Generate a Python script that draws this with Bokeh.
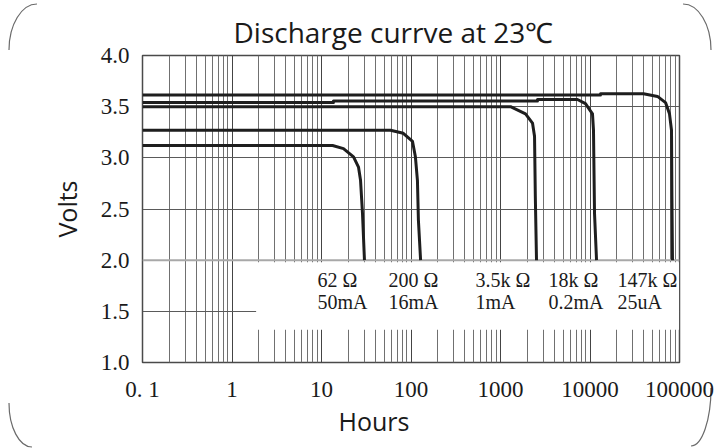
import urllib.parse
from bokeh.plotting import figure
from bokeh.models import FixedTicker, Span, Title
from bokeh.core.properties import value
from bokeh.embed import file_html
from bokeh.resources import INLINE

# ---------------- data ----------------
x_tick_values = [0.1, 1, 10, 100, 1000, 10000, 100000]
x_tick_labels = ["0. 1", "1", "10", "100", "1000", "10000", "100000"]
y_tick_values = [1.0, 1.5, 2.0, 2.5, 3.0, 3.5, 4.0]
y_tick_labels = ["1.0", "1.5", "2.0", "2.5", "3.0", "3.5", "4.0"]

# 62 ohm / 50 mA
hours_62 = [0.1, 13.3, 17.6, 22.8, 25.9, 27.3, 28.7, 30.2]
volts_62 = [3.12, 3.12, 3.09, 3.01, 2.91, 2.78, 2.46, 2.0]
# 200 ohm / 16 mA
hours_200 = [0.1, 59, 82, 104, 112, 118, 121, 128]
volts_200 = [3.27, 3.27, 3.24, 3.16, 3.01, 2.78, 2.39, 2.0]
# 3.5k ohm / 1 mA
hours_3k5 = [0.1, 1294, 1903, 2278, 2400, 2450, 2525]
volts_3k5 = [3.50, 3.50, 3.43, 3.34, 3.21, 2.62, 2.0]
# 18k ohm / 0.2 mA
hours_18k = [0.1, 13.6, 13.6, 2590, 2590, 7244, 8900, 10660, 10940, 11230, 11830]
volts_18k = [3.54, 3.54, 3.555, 3.555, 3.57, 3.57, 3.53, 3.43, 3.27, 2.46, 2.0]
# 147k ohm / 25 uA
hours_147k = [0.1, 13100, 13100, 39600, 56800, 69800, 77300, 81400, 82300, 83500]
volts_147k = [3.615, 3.615, 3.627, 3.627, 3.60, 3.54, 3.43, 3.27, 2.62, 2.0]

res_labels = ["62 Ω", "200 Ω", "3.5k Ω", "18k Ω", "147k Ω"]
cur_labels = ["50mA", "16mA", "1mA", "0.2mA", "25uA"]

# label positions (hours) and rows (volts)
label_hours = [9.0, 56, 526, 3436, 20300]
label_row_volts = [1.81, 1.59]

# ---------------- figure ----------------
W, H = 716, 448

# rounded frame corners, drawn as a page background behind a transparent border
corner_svg = (
    "<svg xmlns='http://www.w3.org/2000/svg' width='716' height='448'>"
    "<g fill='none' stroke='#6a6a6a' stroke-width='1.2'>"
    "<path d='M9 50 A28 46 0 0 1 37 4'/>"
    "<path d='M683 4 A28 46 0 0 1 711 50'/>"
    "<path d='M711 388 A20 58 0 0 1 691 446'/>"
    "<path d='M32 447 A23 44 0 0 1 9 403'/>"
    "</g></svg>"
)
bg = 'url("data:image/svg+xml,' + urllib.parse.quote(corner_svg, safe="") + '")'

p = figure(width=W, height=H, x_axis_type="log",
           x_range=(0.1, 100000), y_range=(1.0, 4.0),
           output_backend="svg", toolbar_location=None,
           min_border_left=142, min_border_right=37,
           min_border_top=55, min_border_bottom=86)
p.styles = {"background-image": bg, "background-repeat": "no-repeat"}
p.background_fill_color = "white"
p.border_fill_color = None
p.outline_line_color = "#4a4a4a"
p.outline_line_width = 1.5

minor = [m * d for d in x_tick_values[:-1] for m in range(2, 10)]
p.xaxis.ticker = FixedTicker(ticks=x_tick_values, minor_ticks=minor)
p.xaxis.major_label_overrides = dict(zip(x_tick_values, x_tick_labels))
p.yaxis.ticker = FixedTicker(ticks=y_tick_values)
p.yaxis.major_label_overrides = dict(zip(y_tick_values, y_tick_labels))

for ax in (p.xaxis[0], p.yaxis[0]):
    ax.axis_line_color = None
    ax.major_tick_line_color = None
    ax.minor_tick_line_color = None
    ax.major_tick_out = 0
    ax.minor_tick_out = 0
    ax.major_label_text_font = "Liberation Serif"
    ax.major_label_text_font_size = "23px"
    ax.major_label_text_color = "#1a1a1a"
    ax.major_label_standoff = 14
    ax.axis_label_text_font = "Open Sans"
    ax.axis_label_text_font_size = "25px"
    ax.axis_label_text_font_style = "normal"
    ax.axis_label_text_color = "#1a1a1a"

p.yaxis.axis_label = "Volts"
p.yaxis.axis_label_standoff = 14
p.yaxis.major_label_standoff = 13

# x axis title placed under the tick labels, left of centre as in the original
p.add_layout(Title(text="Hours", align="left", offset=196, standoff=-5,
                   text_font="Open Sans", text_font_size="25px",
                   text_font_style="normal", text_color="#1a1a1a"), "below")

p.xgrid.grid_line_color = "#444444"
p.xgrid.minor_grid_line_color = "#707070"
p.xgrid.minor_grid_line_width = 1
p.ygrid.grid_line_color = "#5a5a5a"

p.title.text = "Discharge currve  at 23℃"
p.title.text_font = "Open Sans"
p.title.text_font_size = "28px"
p.title.text_font_style = "normal"
p.title.text_color = "#1a1a1a"
p.title.align = "left"
p.title.offset = 91
p.title.standoff = 9

# lighter 2.0 V line
p.add_layout(Span(location=2.0, dimension="width", line_color="#a8a8a8",
                  line_width=2, level="underlay"))

# white label panel covering the grid
p.quad(left=1.86, right=99000, bottom=1.32, top=1.98,
       fill_color="white", line_color=None)

curves = [(hours_62, volts_62), (hours_200, volts_200), (hours_3k5, volts_3k5),
          (hours_18k, volts_18k), (hours_147k, volts_147k)]
for hx, vy in curves:
    p.line(hx, vy, line_color="#1e1e1e", line_width=3, line_join="round")

p.text(x=label_hours, y=[label_row_volts[0]] * 5, text=res_labels,
       text_font=value("Liberation Serif"), text_font_size="20px",
       text_baseline="middle", text_align="left", text_color="#1a1a1a")
p.text(x=label_hours, y=[label_row_volts[1]] * 5, text=cur_labels,
       text_font=value("Liberation Serif"), text_font_size="20px",
       text_baseline="middle", text_align="left", text_color="#1a1a1a")

open("out.html", "w").write(file_html(p, INLINE))
